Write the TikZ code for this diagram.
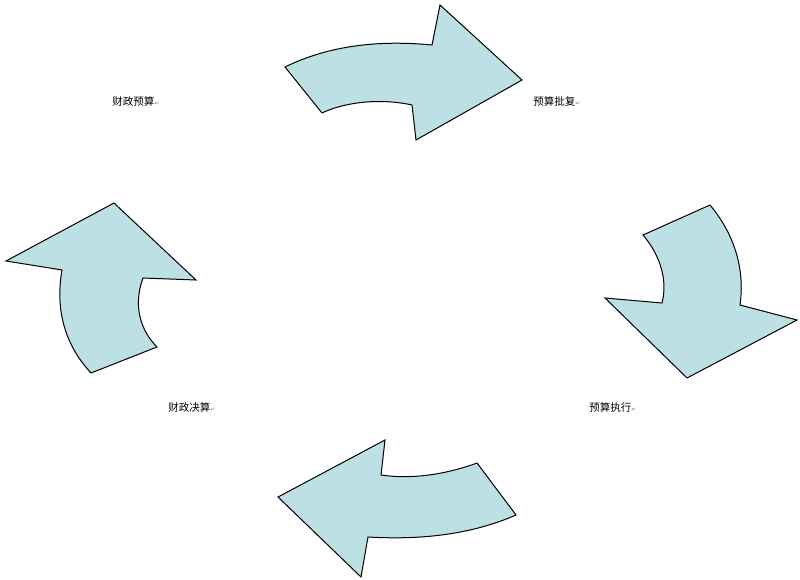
\documentclass[tikz,border=0pt]{standalone}
\usepackage{fontspec}
\newfontfamily\cjk{Noto Sans CJK SC}
\newfontfamily\dvs{DejaVu Sans}
\definecolor{arrfill}{HTML}{BCE0E3}
\begin{document}
\begin{tikzpicture}[x=1pt,y=-1pt,
  arr/.style={draw=black,fill=arrfill,line width=1pt,line join=miter},
  lbl/.style={font=\cjk\fontsize{10.5}{12}\selectfont,inner sep=0pt}]
\useasboundingbox (0,0) rectangle (800,580);
% top arrow
\draw[arr] (285,67) .. controls (330,45) and (380,40) .. (432,45) -- (440,5) -- (522,80) -- (416,140) -- (412,105)
  .. controls (380,98) and (345,102) .. (322,113) -- cycle;
% right arrow
\draw[arr] (643,235) -- (710,205) .. controls (735,235) and (745,270) .. (740,305) -- (797,320) -- (687,378) -- (605,298) -- (662,303)
  .. controls (668,280) and (660,255) .. (643,235) -- cycle;
% bottom arrow
\draw[arr] (477,463) -- (516,515) .. controls (470,535) and (420,540) .. (368,537) -- (361,577) -- (278,497) -- (385,440) -- (381,475)
  .. controls (415,480) and (450,473) .. (477,463) -- cycle;
% left arrow
\draw[arr] (91,373) -- (157,347) .. controls (140,330) and (133,305) .. (143,278) -- (196,280) -- (114,203) -- (6,261) -- (62,270)
  .. controls (55,310) and (65,345) .. (91,373) -- cycle;
\node[lbl] (a) at (136,101) {财政预算{\dvs\fontsize{6}{7}\selectfont\color{gray}↵}};
\node[lbl] (b) at (557,101) {预算批复{\dvs\fontsize{6}{7}\selectfont\color{gray}↵}};
\node[lbl] (c) at (613,407) {预算执行{\dvs\fontsize{6}{7}\selectfont\color{gray}↵}};
\node[lbl] (d) at (192,407) {财政决算{\dvs\fontsize{6}{7}\selectfont\color{gray}↵}};
\end{tikzpicture}
\end{document}
